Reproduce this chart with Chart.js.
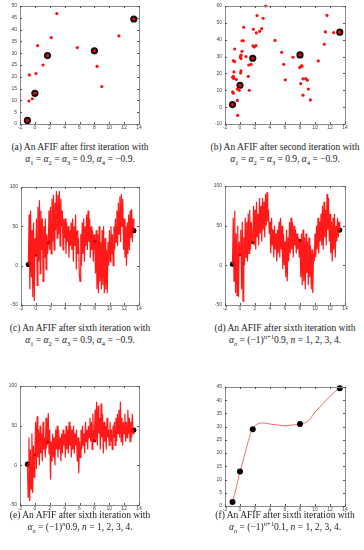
<!DOCTYPE html>
<html>
<head>
<meta charset="utf-8">
<script src="https://cdn.jsdelivr.net/npm/chart.js@4/dist/chart.umd.min.js"></script>
<style>
  body { margin: 0; background: #fff; width: 364px; height: 550px; position: relative; overflow: hidden; font-family: 'Liberation Serif', serif; }
  canvas { position: absolute; }
  .cap { position: absolute; width: 190px; text-align: center; font-size: 9.5px; line-height: 11.5px; color: #222; white-space: nowrap; }
  sub, sup { font-size: 6.5px; line-height: 0; }
</style>
</head>
<body>
<canvas id="pa" width="182" height="136" style="left:0;top:0"></canvas>
<canvas id="pb" width="182" height="136" style="left:182px;top:0"></canvas>
<canvas id="pc" width="182" height="136" style="left:0;top:180px"></canvas>
<canvas id="pd" width="182" height="136" style="left:182px;top:180px"></canvas>
<canvas id="pe" width="182" height="136" style="left:0;top:380px"></canvas>
<canvas id="pf" width="182" height="136" style="left:182px;top:380px"></canvas>

<div class="cap" style="left:-15px;top:142px">(a) An AFIF after first iteration with<br><i>α</i><sub>1</sub> = <i>α</i><sub>2</sub> = <i>α</i><sub>3</sub> = 0.9, <i>α</i><sub>4</sub> = −0.9.</div>
<div class="cap" style="left:190px;top:142px">(b) An AFIF after second iteration with<br><i>α</i><sub>1</sub> = <i>α</i><sub>2</sub> = <i>α</i><sub>3</sub> = 0.9, <i>α</i><sub>4</sub> = −0.9.</div>
<div class="cap" style="left:-15px;top:323px">(c) An AFIF after sixth iteration with<br><i>α</i><sub>1</sub> = <i>α</i><sub>2</sub> = <i>α</i><sub>3</sub> = 0.9, <i>α</i><sub>4</sub> = −0.9.</div>
<div class="cap" style="left:190px;top:323px">(d) An AFIF after sixth iteration with<br><i>α<sub>n</sub></i> = (−1)<sup><i>n</i>+1</sup>0.9, <i>n</i> = 1, 2, 3, 4.</div>
<div class="cap" style="left:-15px;top:510px">(e) An AFIF after sixth iteration with<br><i>α<sub>n</sub></i> = (−1)<sup><i>n</i></sup>0.9, <i>n</i> = 1, 2, 3, 4.</div>
<div class="cap" style="left:190px;top:510px">(f) An AFIF after sixth iteration with<br><i>α<sub>n</sub></i> = (−1)<sup><i>n</i>+1</sup>0.1, <i>n</i> = 1, 2, 3, 4.</div>

<script>
// interpolation points
const keyX = [-1, 0, 1.7, 8, 13.3];
const keyY = [1.5, 13, 29, 31, 44.5];

// (a) first iteration
const aX = [-0.8, -0.35, -0.75, 0.14, 0.37, 1.1, 2.2, 2.95, 5.7, 8.36, 9.0, 11.3];
const aY = [9.7, 10.7, 20.8, 21.4, 33.2, 25, 36.6, 46.8, 32.4, 24.4, 15.9, 37.3];

// (b) second iteration
const bX = [3.42, 2.27, 3.07, 0.49, 1.78, 2.89, 2.62, 2.18, 0.27, 0.44, 4.67, -0.71, 0.27, 1.73, 1.91, 2.13,
  0.13, 0.04, 0.13, 0.8, -0.89, -0.71, 1.16, 1.47, -0.8, 0.13, 0.09, 1.11, -0.89, -0.98, -0.84, -0.49,
  1.24, -0.09, -0.98, -0.89, -0.36, -0.36, -0.31, 5.56, 5.82, 6.04, 7.07, 7.96, 8.18, 8.27, 8.09, 8.4,
  8.76, 8.98, 9.11, 8.4, 9.38, 10.44, 11.24, 11.38, 11.6, 12.49];
const bY = [60, 54.3, 52.7, 47.4, 46.2, 46.6, 45, 44, 39.4, 39.4, 39.6, 34.5, 33.1, 36.3, 35.7, 36.5,
  30.8, 29.8, 28.8, 30, 27.6, 27, 25, 25.4, 20.9, 21.5, 20.3, 18.3, 18.3, 17.6, 17, 16.4,
  10, 10, 9.1, 8.3, 10.7, 4, -4.9, 32.5, 25.4, 16.2, 29.6, 23.5, 24.5, 24.3, 14, 16.8,
  17, 16, 10.7, 7.1, 4.3, 27.4, 37.3, 44.6, 54.4, 44.2];

// x grid shared by the sixth-iteration curves (c), (d), (e)
const lineX = [
  -1, -0.9, -0.8, -0.7, -0.6, -0.5, -0.4, -0.3, -0.2, -0.1,
  0, 0.1, 0.2, 0.3, 0.4, 0.5, 0.6, 0.7, 0.8, 0.9,
  1, 1.1, 1.2, 1.3, 1.4, 1.5, 1.6, 1.7, 1.8, 1.9,
  2, 2.1, 2.2, 2.3, 2.4, 2.5, 2.6, 2.7, 2.8, 2.9,
  3, 3.1, 3.2, 3.3, 3.4, 3.5, 3.6, 3.7, 3.8, 3.9,
  4, 4.1, 4.2, 4.3, 4.4, 4.5, 4.6, 4.7, 4.8, 4.9,
  5, 5.1, 5.2, 5.3, 5.4, 5.5, 5.6, 5.7, 5.8, 5.9,
  6, 6.1, 6.2, 6.3, 6.4, 6.5, 6.6, 6.7, 6.8, 6.9,
  7, 7.1, 7.2, 7.3, 7.4, 7.5, 7.6, 7.7, 7.8, 7.9,
  8, 8.1, 8.2, 8.3, 8.4, 8.5, 8.6, 8.7, 8.8, 8.9,
  9, 9.1, 9.2, 9.3, 9.4, 9.5, 9.6, 9.7, 9.8, 9.9,
  10, 10.1, 10.2, 10.3, 10.4, 10.5, 10.6, 10.7, 10.8, 10.9,
  11, 11.1, 11.2, 11.3, 11.4, 11.5, 11.6, 11.7, 11.8, 11.9,
  12, 12.1, 12.2, 12.3, 12.4, 12.5, 12.6, 12.7, 12.8, 12.9,
  13, 13.1, 13.2, 13.3
];

const cY = [
  1.5, 65, -30, 70, -15, 45, -40, 55, -45, 35,
  13, 60, -25, 75, 5, 83, -10, 70, 20, 60,
  -20, 50, 10, 60, -5, 40, 15, 29, 70, 20,
  75, 15, 85, 30, 90, 20, 80, 45, 95, 35,
  90, 40, 95, 25, 85, 50, 70, 20, 60, 35,
  60, 15, 55, 30, 50, 10, 45, 25, 55, 20,
  60, 5, 50, 25, 65, -5, 45, 15, 35, -10,
  -20, 40, 0, 55, 15, 60, 5, 50, 25, 65,
  20, 70, 30, 60, 10, 50, 20, 45, 5, 40,
  31, -10, 45, -30, 40, -35, 50, -20, 30, -30,
  45, -25, 50, -35, 35, -30, 20, -35, 30, 0,
  45, 5, 50, 15, 40, 0, 50, 20, 60, 30,
  70, 25, 80, 40, 88, 30, 91, 50, 85, 20,
  60, 10, 50, 0, 55, 15, 65, 20, 70, 35,
  72, 30, 60, 44.5
];

const dY = [
  1.5, 60, -20, 69, -35, 40, -38, 50, -40, 30,
  13, 45, -30, 55, -45, 35, 0, 60, 10, 55,
  5, 65, 15, 70, 20, 55, 30, 29, 75, 25,
  70, 20, 80, 35, 65, 25, 85, 40, 75, 30,
  85, 45, 80, 35, 90, 50, 92, 55, 70, 40,
  55, 15, 60, 25, 45, 10, 50, 20, 40, 5,
  45, 15, 55, 10, 60, 20, 50, -5, 40, 0,
  30, -15, 45, -20, 35, 5, 55, 15, 60, 20,
  55, 10, 50, 25, 45, 15, 40, 20, 35, 10,
  31, -15, 40, -25, 45, -20, 35, -30, 40, -10,
  30, -25, 35, -15, 25, -30, 20, -35, 15, 5,
  40, 10, 50, 20, 60, 15, 55, 30, 65, 25,
  75, 20, 80, 35, 70, 25, 90, 45, 85, 30,
  65, 15, 55, 5, 60, 20, 65, 10, 50, 30,
  60, 35, 55, 44.5
];

const eY = [
  1.5, -40, 35, -45, 20, -30, 40, -35, 25, -15,
  13, 55, -5, 62, 10, 45, 0, 50, 15, 40,
  5, 55, 20, 35, 10, 60, 25, 29, 66, 15,
  45, -18, 30, 5, 40, 10, 35, 0, 45, 20,
  50, 10, 45, 20, 35, 5, 40, 15, 45, 25,
  40, 10, 50, 20, 45, 15, 55, 25, 50, 10,
  45, 20, 50, 15, 40, 25, 45, 5, 35, -10,
  30, 10, 45, 20, 50, 25, 40, 15, 55, 30,
  45, 20, 50, 35, 60, 30, 55, 20, 65, 30,
  31, 70, 30, 80, 25, 75, 40, 60, 20, 78,
  35, 65, 15, 55, 30, 50, 20, 60, 35, 45,
  25, 55, 30, 45, 20, 50, 35, 55, 25, 60,
  30, 65, 40, 70, 35, 80, 30, 60, 25, 55,
  40, 65, 30, 55, 35, 70, 40, 60, 30, 55,
  35, 65, 40, 44.5
];

// (f) smooth curve
const fX = [-1, -0.5, 0, 0.5, 1, 1.5, 1.7, 2, 2.5, 3, 4, 5, 6, 7, 8, 8.5, 9, 9.5, 10, 11, 12, 13, 13.3];
const fY = [1.5, 7, 13, 18, 23.5, 28, 29, 30.3, 31.2, 31.4, 31, 30.6, 30.4, 30.6, 31, 31.3, 32, 33.5, 35.5, 38.5, 41.5, 44, 44.5];

function pts(xs, ys) {
  return xs.map((x, i) => ({ x: x, y: ys[i] }));
}

// box around the plot with inward ticks, matlab style
const boxPlugin = {
  id: 'box',
  afterDraw(chart) {
    const ctx = chart.ctx;
    const a = chart.chartArea;
    const sx = chart.scales.x, sy = chart.scales.y;
    ctx.save();
    ctx.strokeStyle = '#8a8a8a';
    ctx.lineWidth = 1;
    ctx.strokeRect(Math.round(a.left) + 0.5, Math.round(a.top) + 0.5, Math.round(a.width), Math.round(a.height));
    ctx.strokeStyle = '#555';
    ctx.beginPath();
    sx.ticks.forEach(t => {
      const px = Math.round(sx.getPixelForValue(t.value)) + 0.5;
      ctx.moveTo(px, a.bottom); ctx.lineTo(px, a.bottom - 2);
      ctx.moveTo(px, a.top); ctx.lineTo(px, a.top + 2);
    });
    sy.ticks.forEach(t => {
      const py = Math.round(sy.getPixelForValue(t.value)) + 0.5;
      ctx.moveTo(a.left, py); ctx.lineTo(a.left + 2, py);
      ctx.moveTo(a.right, py); ctx.lineTo(a.right - 2, py);
    });
    ctx.stroke();
    ctx.restore();
  }
};

const tickFont = { family: 'Liberation Sans', size: 5 };

function makePanel(id, area, yMin, yMax, yStep, datasets) {
  return new Chart(document.getElementById(id), {
    type: 'scatter',
    data: { datasets: datasets },
    options: {
      responsive: false,
      animation: false,
      devicePixelRatio: 1,
      layout: { padding: { left: 0, top: area.top, right: 182 - area.right, bottom: 0 } },
      plugins: { legend: { display: false }, tooltip: { enabled: false } },
      scales: {
        x: {
          type: 'linear', min: -2, max: 14,
          ticks: { stepSize: 2, font: tickFont, color: '#444', padding: 1, maxRotation: 0 },
          grid: { display: false, drawTicks: false },
          border: { display: false },
          afterFit: s => { s.height = 136 - area.bottom; }
        },
        y: {
          type: 'linear', min: yMin, max: yMax,
          ticks: { stepSize: yStep, font: tickFont, color: '#444', padding: 3 },
          grid: { display: false, drawTicks: false },
          border: { display: false },
          afterFit: s => { s.width = area.left; }
        }
      }
    },
    plugins: [boxPlugin]
  });
}

function dotSets(xs, ys) {
  return [
    { data: pts(keyX, keyY), pointRadius: 1.6, pointBackgroundColor: '#ff0000', pointBorderWidth: 0, clip: false },
    { data: pts(xs, ys), pointRadius: 1.6, pointBackgroundColor: '#ff1010', pointBorderWidth: 0, clip: false },
    { data: pts(keyX, keyY), pointRadius: 3.6, pointBackgroundColor: '#111', pointBorderWidth: 0, clip: false }
  ];
}

// end points stand out, inner ones mostly hidden under the curve
function lineSets(ys) {
  return [
    { data: pts(lineX, ys), showLine: true, borderColor: 'rgba(255,0,0,0.9)', borderWidth: 1.2, pointRadius: 0, tension: 0 },
    { data: pts(keyX, keyY), pointRadius: [2.6, 1.2, 1.8, 1.8, 2.6], pointBackgroundColor: '#000', pointBorderWidth: 0, clip: false }
  ];
}

makePanel('pa', { left: 20, top: 6, right: 139, bottom: 124 }, 0, 50, 5, dotSets(aX, aY));
makePanel('pb', { left: 43, top: 6, right: 163, bottom: 124 }, -10, 60, 10, dotSets(bX, bY));
makePanel('pc', { left: 21, top: 7, right: 139, bottom: 125 }, -50, 100, 50, lineSets(cY));
makePanel('pd', { left: 43, top: 6, right: 163, bottom: 125 }, -50, 100, 50, lineSets(dY));
makePanel('pe', { left: 20, top: 6, right: 139, bottom: 125 }, -50, 100, 50, lineSets(eY));
makePanel('pf', { left: 43, top: 7, right: 163, bottom: 126 }, 0, 45, 5, [
  { data: pts(keyX, keyY), pointRadius: 3, pointBackgroundColor: '#000', pointBorderWidth: 0, clip: false },
  { data: pts(fX, fY), showLine: true, borderColor: 'rgba(255,90,90,0.9)', borderWidth: 1, pointRadius: 0, cubicInterpolationMode: 'monotone' }
]);
</script>
</body>
</html>
